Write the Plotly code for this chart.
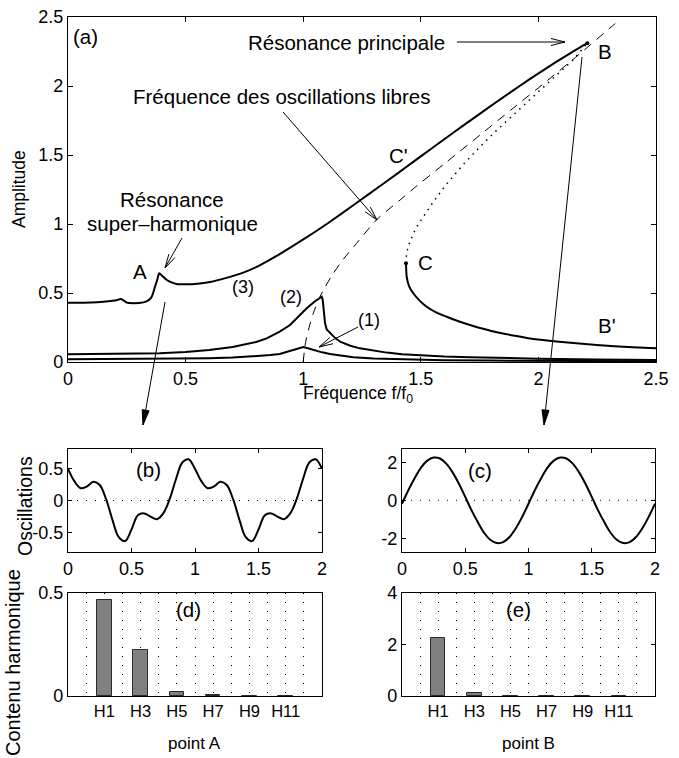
import plotly.graph_objects as go
import math

W, H = 679, 758
FONT = "Liberation Sans, Arial, sans-serif"

# ---------------- data (a) : amplitude vs frequency ----------------
# curve (1)
x1 = [0, 0.2, 0.4, 0.6, 0.7, 0.8, 0.86, 0.9, 0.93, 0.96, 1.0, 1.02, 1.043, 1.08, 1.114,
      1.16, 1.213, 1.3, 1.426, 1.6, 1.8, 2.0, 2.25, 2.5]
y1 = [0.02, 0.021, 0.023, 0.028, 0.032, 0.04, 0.05, 0.058, 0.072, 0.09, 0.108, 0.1, 0.087,
      0.07, 0.058, 0.045, 0.034, 0.026, 0.019, 0.013, 0.01, 0.008, 0.006, 0.005]
# curve (2)
x2 = [0, 0.2, 0.39, 0.5, 0.6, 0.7, 0.745, 0.8, 0.845, 0.9, 0.944, 0.98, 1.015, 1.05, 1.079,
      1.083, 1.086, 1.093, 1.1, 1.114, 1.135, 1.157, 1.2, 1.241, 1.3, 1.355, 1.42, 1.497,
      1.6, 1.709, 1.85, 2.0, 2.25, 2.5]
y2 = [0.056, 0.058, 0.063, 0.073, 0.087, 0.108, 0.123, 0.145, 0.171, 0.22, 0.268, 0.33,
      0.389, 0.44, 0.473, 0.45, 0.377, 0.28, 0.235, 0.208, 0.175, 0.147, 0.118, 0.099,
      0.082, 0.068, 0.057, 0.048, 0.04, 0.034, 0.028, 0.024, 0.019, 0.015]
# curve (3), upper branch C' up to point B
x3 = [0, 0.1, 0.15, 0.19, 0.21, 0.225, 0.24, 0.25, 0.28, 0.32, 0.34, 0.355, 0.37, 0.38,
      0.388, 0.40, 0.42, 0.44, 0.462, 0.505, 0.55, 0.604, 0.67, 0.745, 0.8, 0.859, 0.9,
      0.95, 1.043, 1.1, 1.157, 1.241, 1.327, 1.4, 1.468, 1.54, 1.61, 1.68, 1.752, 1.82,
      1.893, 1.96, 2.035, 2.1, 2.177, 2.208]
y3 = [0.43, 0.432, 0.437, 0.444, 0.45, 0.456, 0.442, 0.43, 0.426, 0.432, 0.445, 0.47,
      0.546, 0.6, 0.643, 0.625, 0.594, 0.577, 0.566, 0.563, 0.567, 0.58, 0.608, 0.648,
      0.688, 0.742, 0.782, 0.834, 0.935, 1.0, 1.068, 1.17, 1.275, 1.365, 1.45, 1.54, 1.627,
      1.713, 1.80, 1.882, 1.968, 2.046, 2.13, 2.2, 2.28, 2.31]
# lower branch from C to B'
xc = [1.437, 1.438, 1.44, 1.45, 1.468, 1.495, 1.525, 1.565, 1.61, 1.66, 1.709, 1.8, 1.9,
      1.964, 2.1, 2.248, 2.4, 2.5]
yc = [0.715, 0.67, 0.618, 0.55, 0.498, 0.445, 0.40, 0.36, 0.328, 0.295, 0.268, 0.225,
      0.19, 0.171, 0.145, 0.123, 0.107, 0.099]
# unstable branch (dotted) from C to B
xu = [1.437, 1.439, 1.445, 1.455, 1.468, 1.49, 1.52, 1.553, 1.61, 1.68, 1.752, 1.82,
      1.893, 1.96, 2.035, 2.1, 2.148, 2.208]
yu = [0.715, 0.77, 0.83, 0.88, 0.93, 1.0, 1.08, 1.16, 1.29, 1.43, 1.56, 1.675, 1.79,
      1.895, 2.01, 2.11, 2.19, 2.31]
# free-oscillation frequency (dashed backbone)
xb = [1.0, 1.01, 1.025, 1.043, 1.065, 1.086, 1.12, 1.157, 1.227, 1.312, 1.412, 1.468,
      1.61, 1.752, 1.893, 2.035, 2.177, 2.318, 2.34]
yb = [0.0, 0.14, 0.25, 0.353, 0.45, 0.522, 0.62, 0.715, 0.86, 1.03, 1.174, 1.255, 1.45,
      1.645, 1.84, 2.035, 2.235, 2.44, 2.47]

# ---------------- data (b), (c) : oscillations over two periods ----------------
t_osc = [0.0, 0.05, 0.1, 0.15, 0.2, 0.25, 0.3, 0.35, 0.4, 0.45, 0.5, 0.55, 0.6, 0.65, 0.7,
         0.75, 0.8, 0.85, 0.9, 0.95, 1.0, 1.05, 1.1, 1.15, 1.2, 1.25, 1.3, 1.35, 1.4, 1.45,
         1.5, 1.55, 1.6, 1.65, 1.7, 1.75, 1.8, 1.85, 1.9, 1.95, 2.0]
osc_A = [0.49, 0.30, 0.19, 0.22, 0.29, 0.24, 0.02, -0.30, -0.57, -0.63, -0.45, -0.23,
         -0.20, -0.25, -0.29, -0.20, 0.02, 0.33, 0.59, 0.64, 0.49, 0.30, 0.19, 0.22, 0.29,
         0.24, 0.02, -0.30, -0.57, -0.63, -0.45, -0.23, -0.20, -0.25, -0.29, -0.20, 0.02,
         0.33, 0.59, 0.64, 0.49]
osc_B = [-0.18, 0.53, 1.16, 1.72, 2.09, 2.25, 2.20, 1.93, 1.47, 0.87, 0.18, -0.53, -1.16,
         -1.72, -2.09, -2.25, -2.20, -1.93, -1.47, -0.87, -0.18, 0.53, 1.16, 1.72, 2.09,
         2.25, 2.20, 1.93, 1.47, 0.87, 0.18, -0.53, -1.16, -1.72, -2.09, -2.25, -2.20,
         -1.93, -1.47, -0.87, -0.18]

# ---------------- data (d), (e) : harmonic content ----------------
harm_labels = ["H1", "H3", "H5", "H7", "H9", "H11"]
harm_A = [0.465, 0.222, 0.018, 0.003, 0.0, 0.0]
harm_B = [2.26, 0.10, 0.005, 0.0, 0.0, 0.0]

harm_pos = [i + 1 for i in range(len(harm_labels))]

fig = go.Figure()

BLACK = "black"
main_kw = dict(xaxis="x", yaxis="y", showlegend=False, hoverinfo="skip")
fig.add_trace(go.Scatter(x=x1, y=y1, mode="lines", line=dict(color=BLACK, width=2), **main_kw))
fig.add_trace(go.Scatter(x=x2, y=y2, mode="lines", line=dict(color=BLACK, width=2), **main_kw))
fig.add_trace(go.Scatter(x=x3, y=y3, mode="lines", line=dict(color=BLACK, width=2, shape="spline", smoothing=0.8), **main_kw))
fig.add_trace(go.Scatter(x=xc, y=yc, mode="lines", line=dict(color=BLACK, width=2, shape="spline", smoothing=0.5), **main_kw))
fig.add_trace(go.Scatter(x=xu, y=yu, mode="lines", line=dict(color=BLACK, width=1.5, dash="1.5px,5px"), **main_kw))
fig.add_trace(go.Scatter(x=xb, y=yb, mode="lines", line=dict(color=BLACK, width=1, dash="9px,7px", shape="spline", smoothing=0.8), **main_kw))
fig.add_trace(go.Scatter(x=[x3[-1], xc[0]], y=[y3[-1], yc[0]], mode="markers",
                         marker=dict(color=BLACK, size=4), **main_kw))

fig.add_trace(go.Scatter(x=t_osc, y=osc_A, mode="lines", xaxis="x2", yaxis="y2",
                         line=dict(color=BLACK, width=2, shape="spline", smoothing=1.0),
                         showlegend=False, hoverinfo="skip"))
fig.add_trace(go.Scatter(x=t_osc, y=osc_B, mode="lines", xaxis="x3", yaxis="y3",
                         line=dict(color=BLACK, width=2, shape="spline", smoothing=1.0),
                         showlegend=False, hoverinfo="skip"))

bar_kw = dict(width=0.4, marker=dict(color="#808080", line=dict(color="#2a2a2a", width=1)),
              showlegend=False, hoverinfo="skip")
fig.add_trace(go.Bar(x=harm_pos, y=harm_A, xaxis="x4", yaxis="y4", **bar_kw))
fig.add_trace(go.Bar(x=harm_pos, y=harm_B, xaxis="x5", yaxis="y5", **bar_kw))


def xd(px):
    return px / W


def yd(py):
    return 1 - py / H


def ax_style(**kw):
    base = dict(showline=True, linecolor=BLACK, linewidth=1.2, mirror="ticks",
                ticks="inside", ticklen=5, tickwidth=1, tickcolor=BLACK,
                showgrid=False, zeroline=False,
                tickfont=dict(family=FONT, size=18, color=BLACK))
    base.update(kw)
    return base


def fmt(v):
    return "%g" % v


main_ticks = [0, 0.5, 1, 1.5, 2, 2.5]
osc_ticks_t = [0, 0.5, 1, 1.5, 2]
DOTS = "1px,8px"
harm_x = dict(range=[0, 7], ticks="", mirror=True, tickvals=harm_pos, ticktext=harm_labels,
              showgrid=True, griddash=DOTS, gridcolor=BLACK, gridwidth=1,
              minor=dict(tick0=0, dtick=0.5, showgrid=True, griddash=DOTS,
                         gridcolor=BLACK, gridwidth=1, ticks=""),
              tickfont=dict(family=FONT, size=16.5, color=BLACK))

fig.update_layout(
    width=W, height=H, template="none",
    margin=dict(l=0, r=0, t=0, b=0),
    paper_bgcolor="white", plot_bgcolor="white",
    font=dict(family=FONT, color=BLACK),
    bargap=0,
    xaxis=ax_style(domain=[xd(68), xd(656)], range=[0, 2.5], anchor="y",
                   tickvals=main_ticks, ticktext=[fmt(v) for v in main_ticks]),
    yaxis=ax_style(domain=[yd(362), yd(17)], range=[0, 2.5], anchor="x",
                   tickvals=main_ticks, ticktext=[fmt(v) for v in main_ticks]),
    xaxis2=ax_style(domain=[xd(68), xd(322)], range=[0, 2], anchor="y2", ticklen=4,
                    tickvals=osc_ticks_t, ticktext=[fmt(v) for v in osc_ticks_t]),
    yaxis2=ax_style(domain=[yd(552), yd(449)], range=[-0.8, 0.8], anchor="x2", ticklen=4,
                    tickvals=[-0.5, 0, 0.5], ticktext=["-0.5", "0", "0.5"]),
    xaxis3=ax_style(domain=[xd(402), xd(655)], range=[0, 2], anchor="y3", ticklen=4,
                    tickvals=osc_ticks_t, ticktext=[fmt(v) for v in osc_ticks_t]),
    yaxis3=ax_style(domain=[yd(552), yd(449)], range=[-2.72, 2.7], anchor="x3", ticklen=4,
                    tickvals=[-2, 0, 2], ticktext=["-2", "0", "2"]),
    xaxis4=ax_style(domain=[xd(68), xd(322)], anchor="y4", **harm_x),
    yaxis4=ax_style(domain=[yd(696), yd(593)], range=[0, 0.5], anchor="x4", ticklen=4,
                    tickvals=[0, 0.5], ticktext=["0", "0.5"]),
    xaxis5=ax_style(domain=[xd(402), xd(655)], anchor="y5", **harm_x),
    yaxis5=ax_style(domain=[yd(696), yd(593)], range=[0, 4], anchor="x5", ticklen=4,
                    tickvals=[0, 2, 4], ticktext=["0", "2", "4"]),
)

shapes = []
# dotted zero lines in (b) and (c)
for xr, yr in (("x2 domain", "y2"), ("x3 domain", "y3")):
    shapes.append(dict(type="line", xref=xr, yref=yr, x0=0, x1=1, y0=0, y1=0,
                       line=dict(color=BLACK, width=1, dash=DOTS), layer="below"))


def arrow(tail, head, filled=False, L=14, hw=3.5, width=1):
    (tx, ty), (hx, hy) = tail, head
    d = math.hypot(hx - tx, hy - ty)
    ux, uy = (hx - tx) / d, (hy - ty) / d
    nx, ny = -uy, ux
    bx, by = hx - L * ux, hy - L * uy
    p1 = (bx + hw * nx, by + hw * ny)
    p2 = (bx - hw * nx, by - hw * ny)
    ln = dict(color=BLACK, width=width)
    shapes.append(dict(type="line", xref="paper", yref="paper", x0=xd(tx), y0=yd(ty),
                       x1=xd(hx), y1=yd(hy), line=ln))
    if filled:
        path = "M %f,%f L %f,%f L %f,%f Z" % (xd(p1[0]), yd(p1[1]), xd(hx), yd(hy), xd(p2[0]), yd(p2[1]))
        shapes.append(dict(type="path", xref="paper", yref="paper", path=path,
                           fillcolor=BLACK, line=dict(color=BLACK, width=1)))
    else:
        for p in (p1, p2):
            shapes.append(dict(type="line", xref="paper", yref="paper", x0=xd(p[0]), y0=yd(p[1]),
                               x1=xd(hx), y1=yd(hy), line=ln))


arrow((457, 42), (565, 42))                 # Résonance principale
arrow((283, 112), (377, 220))               # Fréquence des oscillations libres
arrow((182, 238), (165, 268))               # super-harmonique
arrow((358, 327), (319, 347))               # (1)
arrow((165, 302), (143, 425), filled=True, L=15, hw=3.5)   # A -> (b)
arrow((582, 57), (544, 425), filled=True, L=15, hw=3.5)    # B -> (c)

fig.update_layout(shapes=shapes)

annots = []


def label(px, py, text, size=20.5, angle=0, xanchor="center"):
    annots.append(dict(x=xd(px), y=yd(py), xref="paper", yref="paper", text=text,
                       showarrow=False, xanchor=xanchor, yanchor="middle", textangle=angle,
                       font=dict(family=FONT, size=size, color=BLACK)))


label(85, 36, "(a)")
label(346, 43, "Résonance principale")
label(605, 51, "B")
label(281, 97, "Fréquence des oscillations libres")
label(398, 155, "C'")
label(172, 200, "Résonance")
label(172, 224, "super\u2013harmonique")
label(140, 272, "A")
label(243, 287, "(3)", size=18)
label(291, 297, "(2)", size=18)
label(369, 320, "(1)", size=18)
label(425, 262, "C")
label(607, 326, "B'")
label(358, 394, "Fréquence f/f<sub>0</sub>", size=17.5)
label(19, 189, "Amplitude", size=17.5, angle=-90)
label(148, 469, "(b)")
label(480, 470, "(c)")
label(188, 609, "(d)")
label(518, 609, "(e)")
label(25, 506, "Oscillations", size=19.5, angle=-90)
label(13, 663, "Contenu harmonique", size=20, angle=-90)
label(195, 743, "point A", size=17)
label(528, 743, "point B", size=17)

fig.update_layout(annotations=annots)

fig.write_html(
    "out.html",
    config={"displayModeBar": False},
    post_script=("document.body.style.margin='0';document.body.style.padding='0';"
                 "document.documentElement.style.overflow='hidden';"
                 "document.body.style.overflow='hidden';"),
)
